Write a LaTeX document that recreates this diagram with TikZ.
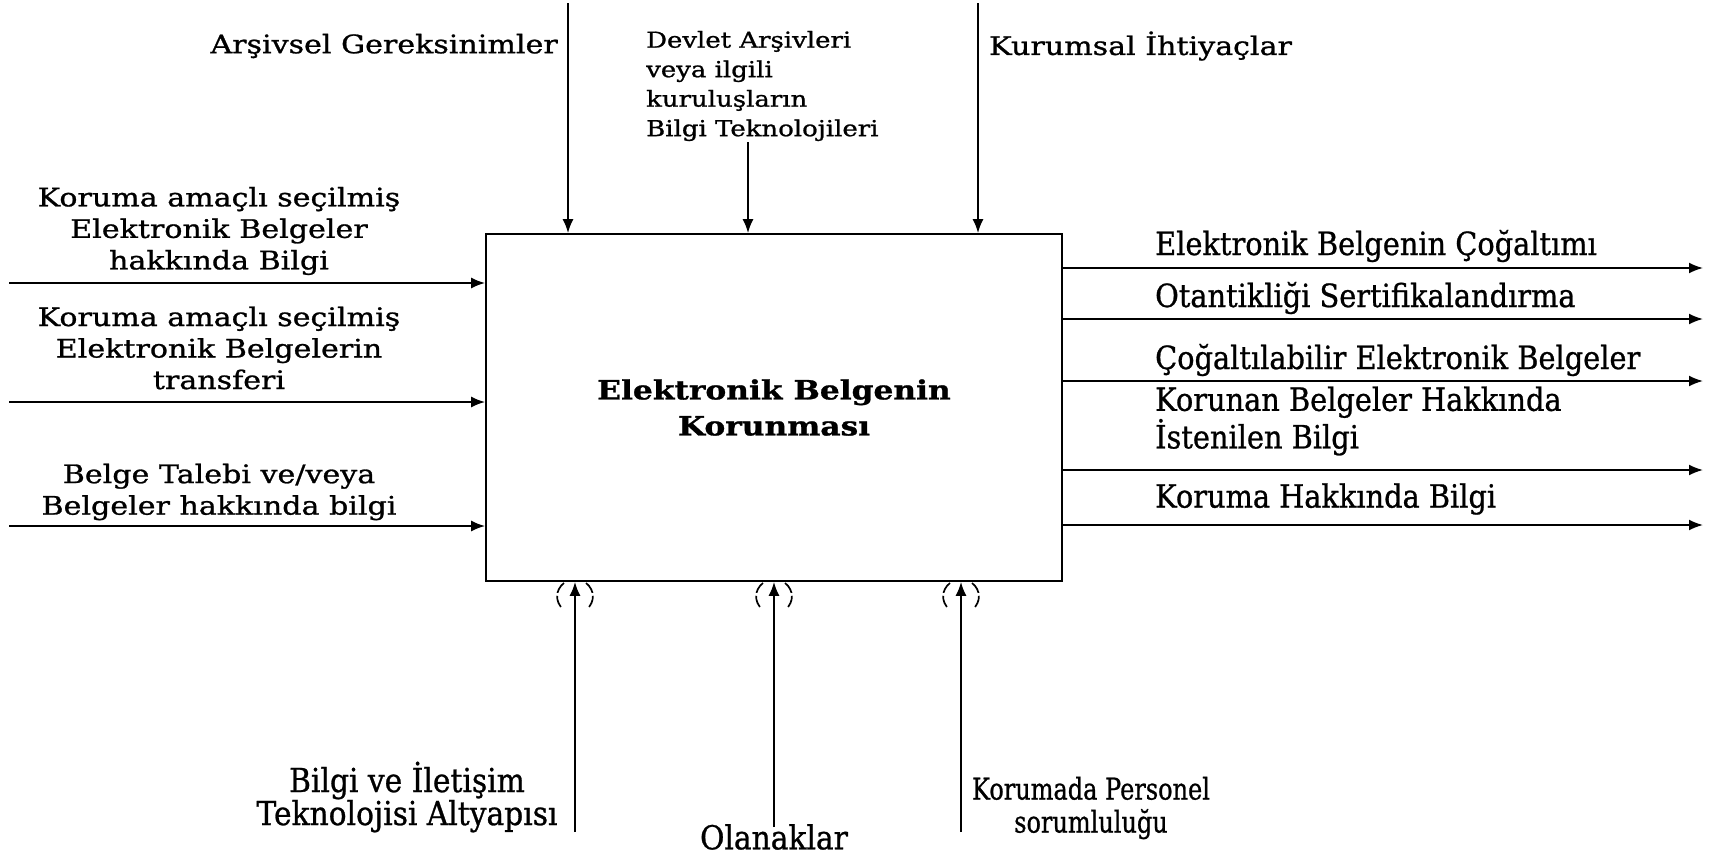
\documentclass[tikz,border=0pt]{standalone}
\usepackage{fontspec}
\setmainfont{DejaVu Serif}[FakeStretch=1.18, FakeBold=1.0]
\newfontfamily\condfont{DejaVu Serif}[FakeStretch=0.9, FakeBold=0.8]
\newfontfamily\midfont{DejaVu Serif}[FakeStretch=0.8, FakeBold=0.8]
\usetikzlibrary{arrows.meta}
\tikzset{
  arr/.style={line width=1.8pt, -{Latex[length=14pt,width=11pt]}},
  lbl/.style={font=\fontsize{25.5}{31.5}\selectfont, align=center, inner sep=0pt},
  slbl/.style={font=\midfont\fontsize{30}{33}\selectfont, align=center, inner sep=0pt},
  tlbl/.style={font=\fontsize{22}{29.5}\selectfont, align=left, inner sep=0pt},
  rlbl/.style={font=\condfont\fontsize{32}{34}\selectfont, align=left, anchor=west, inner sep=0pt},
  blbl/.style={font=\condfont\fontsize{33}{33}\selectfont, align=center, inner sep=0pt},
  paren/.style={line width=1.7pt, dash pattern=on 12pt off 3pt},
}
\begin{document}
\begin{tikzpicture}[x=1pt,y=-1pt]
\useasboundingbox (0,0) rectangle (1709,857);
\fill[white] (0,0) rectangle (1709,857);
% main box
\node[draw, line width=1.8pt, minimum width=576, minimum height=347, inner sep=0pt,
      font=\bfseries\fontsize{26.5}{36}\selectfont, align=center] (box) at (774,407.5)
  {Elektronik Belgenin\\Korunması};
% top labels
\node[lbl, anchor=east] (t1) at (558,46) {Arşivsel Gereksinimler};
\node[tlbl, anchor=west] (t2) at (646,86) {Devlet Arşivleri\\veya ilgili\\kuruluşların\\Bilgi Teknolojileri};
\node[lbl, anchor=west] (t3) at (989,46) {Kurumsal İhtiyaçlar};
\coordinate (c1) at (568,3);
\coordinate (c2) at (748,142);
\coordinate (c3) at (978,3);
\draw[arr] (c1) -- (c1 |- box.north);
\draw[arr] (c2) -- (c2 |- box.north);
\draw[arr] (c3) -- (c3 |- box.north);
% left inputs
\node[lbl] (i1) at (219,231) {Koruma amaçlı seçilmiş\\Elektronik Belgeler\\hakkında Bilgi};
\node[lbl] (i2) at (219,348) {Koruma amaçlı seçilmiş\\Elektronik Belgelerin\\transferi};
\node[lbl] (i3) at (219,492) {Belge Talebi ve/veya\\Belgeler hakkında bilgi};
\coordinate (l1) at (9,283);
\coordinate (l2) at (9,402);
\coordinate (l3) at (9,526);
\draw[arr] (l1) -- (l1 -| box.west);
\draw[arr] (l2) -- (l2 -| box.west);
\draw[arr] (l3) -- (l3 -| box.west);
% right outputs
\coordinate (r1) at (1703,268);
\coordinate (r2) at (1703,319);
\coordinate (r3) at (1703,381);
\coordinate (r4) at (1703,470);
\coordinate (r5) at (1703,525);
\draw[arr] (r1 -| box.east) -- (r1);
\draw[arr] (r2 -| box.east) -- (r2);
\draw[arr] (r3 -| box.east) -- (r3);
\draw[arr] (r4 -| box.east) -- (r4);
\draw[arr] (r5 -| box.east) -- (r5);
\node[rlbl] (o1) at (1155,246) {Elektronik Belgenin Çoğaltımı};
\node[rlbl] (o2) at (1155,298) {Otantikliği Sertifikalandırma};
\node[rlbl] (o3) at (1155,360) {Çoğaltılabilir Elektronik Belgeler};
\node[rlbl] (o4) at (1155,421) {Korunan Belgeler Hakkında\\İstenilen Bilgi};
\node[rlbl] (o5) at (1155,499) {Koruma Hakkında Bilgi};
% bottom mechanisms
\coordinate (m1) at (575,832);
\coordinate (m2) at (774,827);
\coordinate (m3) at (961,832);
\draw[arr] (m1) -- (m1 |- box.south);
\draw[arr] (m2) -- (m2 |- box.south);
\draw[arr] (m3) -- (m3 |- box.south);
\foreach \x in {575,774,961}{
  \draw[paren] (\x-11,583) .. controls (\x-20,590) and (\x-20,602) .. (\x-12,609);
  \draw[paren] (\x+11,583) .. controls (\x+20,590) and (\x+20,602) .. (\x+12,609);
}
\node[blbl] (k1) at (407,797) {Bilgi ve İletişim\\Teknolojisi Altyapısı};
\node[blbl] (k2) at (774,837) {Olanaklar};
\node[slbl] (k3) at (1091,808) {Korumada Personel\\sorumluluğu};
\end{tikzpicture}
\end{document}
